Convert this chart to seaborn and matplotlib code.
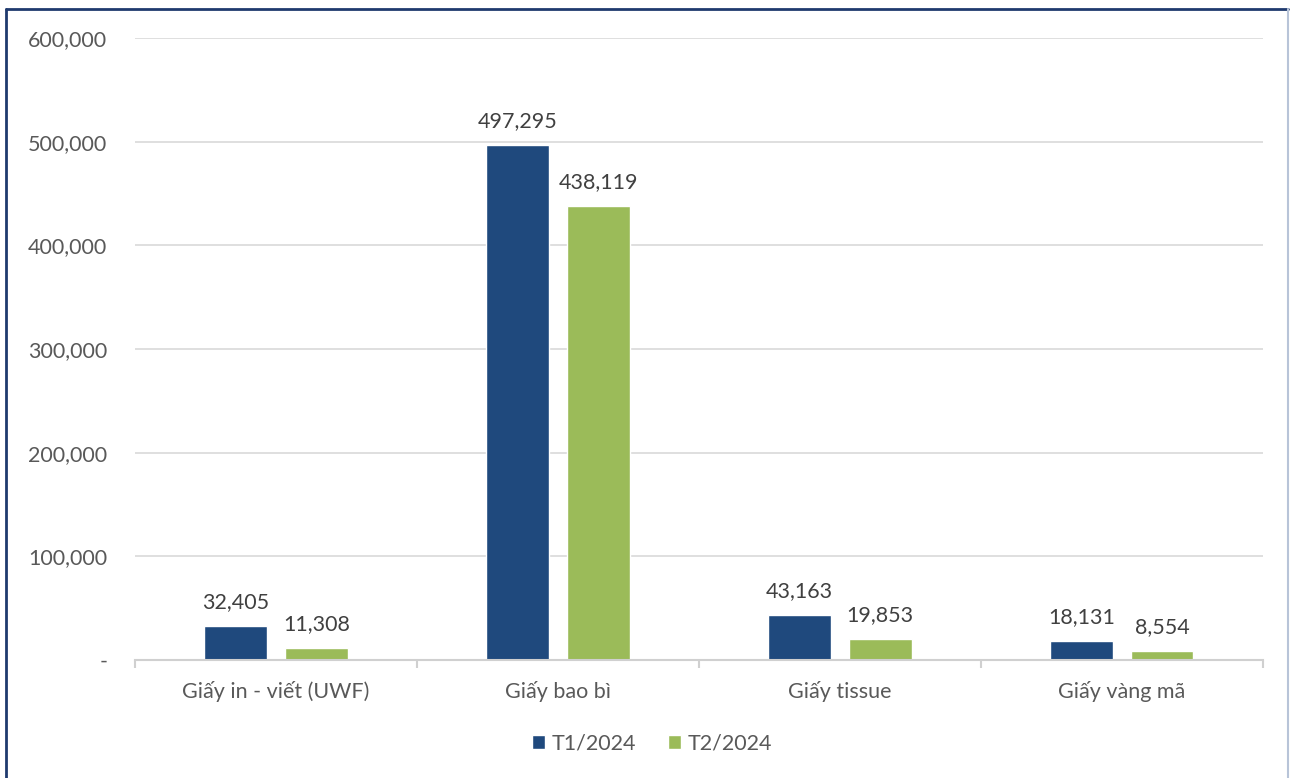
import pandas as pd
import matplotlib
matplotlib.use("Agg")
import matplotlib.pyplot as plt
import seaborn as sns
from matplotlib.lines import Line2D
from matplotlib.ticker import FuncFormatter, FixedLocator

categories = ["Giấy in - viết (UWF)", "Giấy bao bì", "Giấy tissue", "Giấy vàng mã"]
series = ["T1/2024", "T2/2024"]
t1 = [32405, 497295, 43163, 18131]
t2 = [11308, 438119, 19853, 8554]
colors = ["#1F497D", "#9BBB59"]

df = pd.DataFrame({
    "cat": categories * 2,
    "val": t1 + t2,
    "series": [series[0]] * 4 + [series[1]] * 4,
})

sns.set_theme(style="white")
plt.rcParams["font.family"] = ["Lato", "DejaVu Sans"]
fs = 15.5

fig = plt.figure(figsize=(12.91, 7.78), dpi=100)
ax = fig.add_axes([0.1046, 0.1517, 0.8734, 0.7993])

sns.barplot(data=df, x="cat", y="val", hue="series", palette=colors,
            width=0.572, gap=0.22, saturation=1, ax=ax, legend=True)

# data labels
for cont in ax.containers:
    ax.bar_label(cont, labels=[f"{v:,.0f}" for v in cont.datavalues],
                 padding=10, fontsize=fs, color="#404040")

ax.set_ylim(0, 600000)
ax.set_xlim(-0.5, 3.5)
ax.set_yticks(range(0, 600001, 100000))
ax.yaxis.set_major_formatter(FuncFormatter(lambda v, p: "-" if v == 0 else f"{v:,.0f}"))
ax.grid(axis="y", color="#D9D9D9", linewidth=1.2)
ax.set_axisbelow(True)
ax.set_xlabel("")
ax.set_ylabel("")

for s in ["top", "right", "left"]:
    ax.spines[s].set_visible(False)
ax.spines["bottom"].set_color("#D0D0D0")
ax.spines["bottom"].set_linewidth(1.5)

ax.tick_params(axis="y", length=0, pad=20, labelsize=fs, labelcolor="#595959")
ax.tick_params(axis="x", which="major", length=0, pad=15, labelsize=fs, labelcolor="#595959")
ax.xaxis.set_minor_locator(FixedLocator([-0.5, 0.5, 1.5, 2.5, 3.5]))
ax.tick_params(axis="x", which="minor", bottom=True, length=6, width=1.5, color="#D0D0D0")

handles, labels = ax.get_legend_handles_labels()
ax.legend(handles, labels, loc="center", bbox_to_anchor=(0.505, 0.044),
          bbox_transform=fig.transFigure, ncol=2, frameon=False,
          fontsize=fs, labelcolor="#595959", handlelength=0.6, handleheight=0.6,
          handletextpad=0.3, columnspacing=1.5)

# outer border
fig.add_artist(Line2D([0.0047, 0.0047], [0, 0.988], color="#1F3A6E", linewidth=2, transform=fig.transFigure))
fig.add_artist(Line2D([0.0047, 0.998], [0.988, 0.988], color="#1F3A6E", linewidth=2, transform=fig.transFigure))
fig.add_artist(Line2D([0.998, 0.998], [0, 0.988], color="#B8C4D8", linewidth=1.5, transform=fig.transFigure))

fig.savefig("out.png", dpi=100)
